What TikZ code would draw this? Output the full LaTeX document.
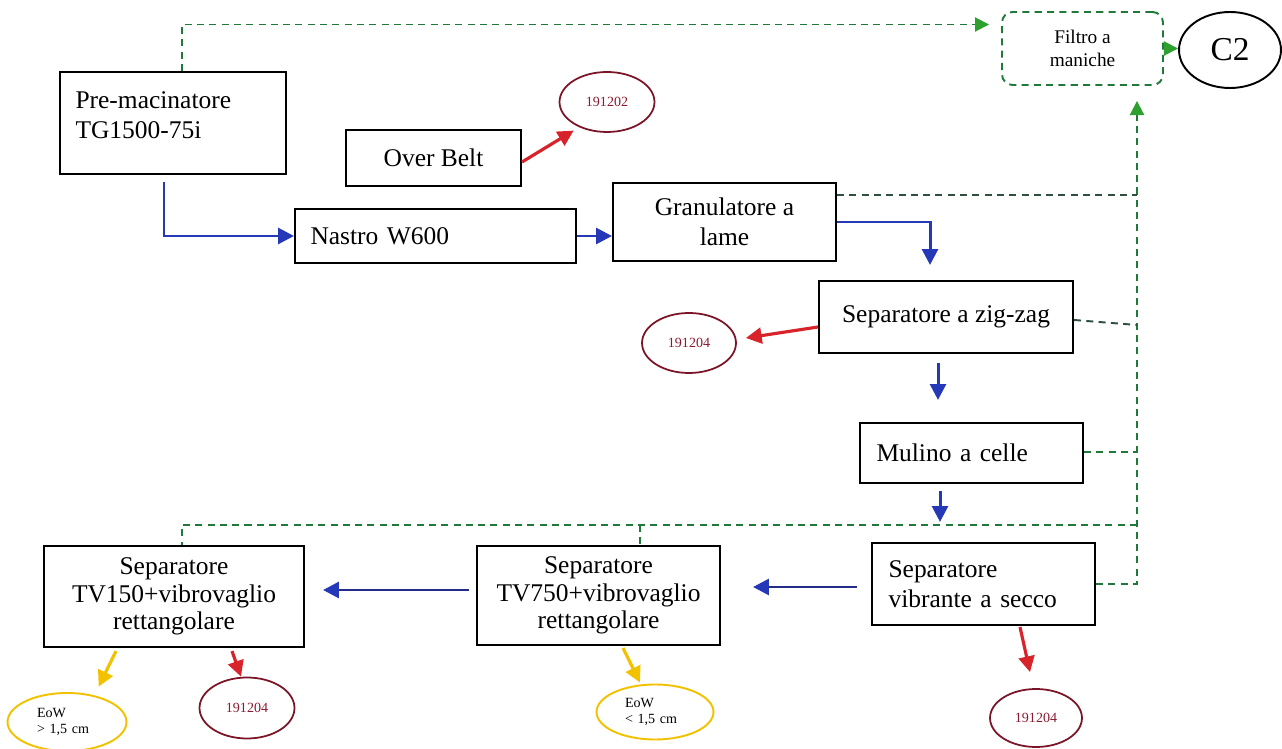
\documentclass[tikz,border=0pt]{standalone}
\usepackage{fontspec}
\setmainfont{Liberation Serif}
\usetikzlibrary{arrows.meta,shapes.geometric,calc}
\definecolor{flowblue}{HTML}{2438B8}
\definecolor{flownavy}{HTML}{232C86}
\definecolor{outred}{HTML}{D8232A}
\definecolor{codered}{HTML}{7B1427}
\definecolor{codetext}{HTML}{8B1A30}
\definecolor{eowyellow}{HTML}{F2C200}
\definecolor{airgreen}{HTML}{1F7A3A}
\definecolor{airtip}{HTML}{2DA02D}
\definecolor{airdark}{HTML}{2F4F3F}

\begin{document}
\begin{tikzpicture}[x=0.02cm, y=-0.02cm,
    box/.style={draw, line width=1.2pt, inner sep=2pt, font=\fontsize{14.5}{17}\selectfont},
    tallbox/.style={box, align=center, font=\fontsize{14.5}{15.5}\selectfont},
    code/.style={ellipse, draw=codered, line width=1pt, inner sep=0pt, text=codetext, font=\fontsize{8}{9.5}\selectfont},
    eow/.style={ellipse, draw=eowyellow, line width=1.1pt, inner sep=0pt, align=left, text width=1.2cm, font=\fontsize{8}{9.5}\selectfont},
    flow/.style={-{Triangle[length=9pt,width=9pt]}, flowblue, line width=1.7pt},
    navyflow/.style={-{Triangle[length=9pt,width=9pt,color=flowblue]}, flownavy, line width=1.7pt},
    outflow/.style={-{Triangle[length=9pt,width=9pt]}, outred, line width=1.8pt},
    eowflow/.style={-{Triangle[length=9pt,width=9pt]}, eowyellow, line width=1.8pt},
    air/.style={airgreen, line width=1.1pt, dash pattern=on 4pt off 3pt},
    airdk/.style={airdark, line width=1.1pt, dash pattern=on 4pt off 3pt},
    airarrow/.style={air, -{Triangle[length=8pt,width=8pt,color=airtip]}}]
  \useasboundingbox (0,0) rectangle (1282,749);

  % process boxes
  \node[box, minimum width=4.52cm, minimum height=2.04cm, text width=3.9cm, align=left] (pre) at (173,123) {Pre-macinatore\\TG1500-75i\\[-8pt]\mbox{}};
  \node[box, minimum width=3.5cm, minimum height=1.12cm] (over) at (433.5,158) {Over Belt};
  \node[box, minimum width=5.62cm, minimum height=1.08cm, text width=5.0cm, align=left] (nastro) at (435.5,236) {Nastro W600};
  \node[box, minimum width=4.46cm, minimum height=1.56cm, align=center] (gran) at (724.5,222) {Granulatore a\\lame};
  \node[box, minimum width=5.08cm, minimum height=1.44cm] (zig) at (946,317) {Separatore a zig-zag};
  \node[box, minimum width=4.46cm, minimum height=1.2cm, text width=3.8cm, align=left] (mulino) at (971.5,453) {Mulino a celle};
  \node[box, minimum width=4.46cm, minimum height=1.64cm, text width=3.8cm, align=left] (vib) at (983.5,584) {Separatore\\vibrante a secco};
  \node[tallbox, minimum width=4.86cm, minimum height=1.98cm] (tv750) at (598.5,595.5) {Separatore\\TV750+vibrovaglio\\rettangolare};
  \node[tallbox, minimum width=5.2cm, minimum height=2.02cm] (tv150) at (174,596.5) {Separatore\\TV150+vibrovaglio\\rettangolare};

  % dust line
  \node[draw=airgreen, line width=1.1pt, dash pattern=on 4pt off 3pt, rounded corners=6pt, minimum width=3.22cm, minimum height=1.46cm, align=center, font=\fontsize{11}{13.5}\selectfont] (filtro) at (1082.5,48.5) {Filtro a\\maniche};
  \node[ellipse, draw, line width=1.1pt, minimum width=2.04cm, minimum height=1.52cm, inner sep=0pt, font=\fontsize{19}{22}\selectfont] (c2) at (1230,50) {C2};

  % outputs
  \node[code, minimum width=1.9cm, minimum height=1.2cm] (e191202) at (607,102) {191202};
  \node[code, minimum width=1.88cm, minimum height=1.2cm] (e191204z) at (689,343) {191204};
  \node[code, minimum width=1.9cm, minimum height=1.22cm] (e191204t) at (247,708) {191204};
  \node[code, minimum width=1.84cm, minimum height=1.16cm] (e191204v) at (1036,718) {191204};
  \node[eow, minimum width=2.38cm, minimum height=1.16cm] (eowgt) at (67,722) {EoW\\> 1,5 cm};
  \node[eow, minimum width=2.34cm, minimum height=1.1cm] (eowlt) at (655,712) {EoW\\< 1,5 cm};

  % material flow
  \draw[flow] ($(pre.south)+(-9,7)$) |- (nastro.west);
  \draw[flow] (nastro.east) -- (nastro.east -| gran.west);
  \draw[flow] (gran.east) -| ($(zig.north)+(-16,-15)$);
  \draw[flow] ($(zig.south)+(-8,9)$) -- ($(mulino.north)+(-33.5,-22)$);
  \draw[flow] ($(mulino.south)+(-31.5,7)$) -- ($(vib.north)+(-43.5,-20)$);
  \draw[navyflow] ($(vib.west)+(-14,3)$) -- ($(tv750.east)+(32,-8.5)$);
  \draw[navyflow] ($(tv750.west)+(-7,-5.5)$) -- ($(tv150.east)+(18,-6.5)$);

  % waste and end-of-waste
  \draw[outflow] ($(over.east)+(0,4)$) -- ($(e191202.220)+(-4,4)$);
  \draw[outflow] ($(zig.west)+(0,10)$) -- ($(e191204z.east)+(9,-5)$);
  \draw[outflow] ($(tv150.south)+(58,3)$) -- ($(e191204t.north)+(-6,0)$);
  \draw[outflow] ($(vib.south)+(36.5,1)$) -- ($(e191204v.north)+(-6,-16)$);
  \draw[eowflow] ($(tv150.south)+(-58,3)$) -- ($(eowgt.48)+(7,-8)$);
  \draw[eowflow] ($(tv750.south)+(24.5,2)$) -- ($(eowlt.north)+(-15,-1)$);

  % air collection to the filter
  \coordinate (cgran) at (1137,195);
  \coordinate (czig) at (1137,325);
  \coordinate (cmul) at (1137,452);
  \coordinate (cbot) at (1137,525);
  \coordinate (ctv) at (640,525);
  \draw[airarrow] ($(pre.north)+(9,0)$) |- ($(filtro.west)+(-12,-24)$);
  \draw[airarrow] (filtro.east) -- (filtro.east -| c2.west);
  \draw[airarrow] (vib.east) -| ($(filtro.south)+(54.5,15)$);
  \draw[airdk] (gran.east |- cgran) -- (cgran);
  \draw[airdk] ($(zig.east)+(0,3)$) -- (czig);
  \draw[air] (mulino.east |- cmul) -- (cmul);
  \draw[air] (cbot) -| ($(tv150.north)+(8,0)$);
  \draw[air] (ctv) -- (ctv |- tv750.north);
\end{tikzpicture}
\end{document}
